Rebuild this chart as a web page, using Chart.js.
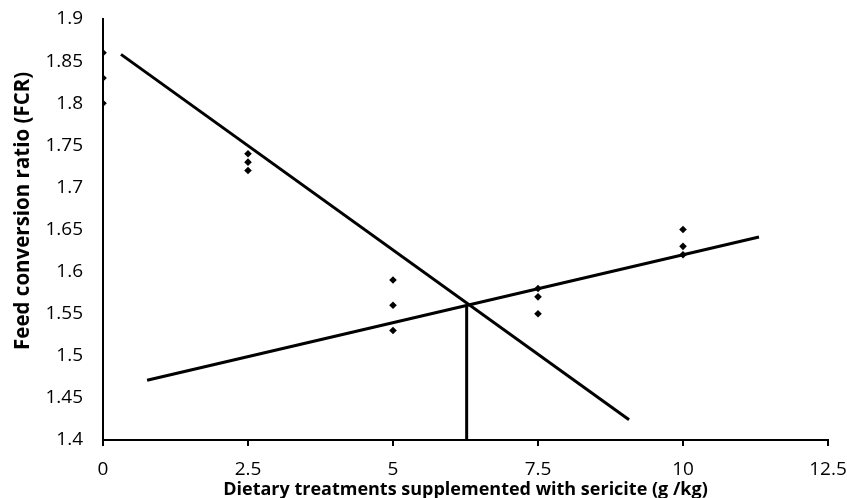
<!DOCTYPE html>
<html>
<head>
<meta charset="utf-8">
<script src="https://cdn.jsdelivr.net/npm/chart.js@4.4.0/dist/chart.umd.min.js"></script>
<style>
    html, body { margin: 0; padding: 0; background: #fff; }
    #wrap { width: 847px; height: 498px; }
</style>
</head>
<body>
<div id="wrap"><canvas id="fcr-chart" width="847" height="498"></canvas></div>
<script>
// sericite dose (g/kg) and FCR of the three replicates
const doses = [0, 2.5, 5, 7.5, 10];
const rep1 = [1.86, 1.74, 1.59, 1.58, 1.65];
const rep2 = [1.83, 1.73, 1.56, 1.57, 1.63];
const rep3 = [1.80, 1.72, 1.53, 1.55, 1.62];

// broken-line fit: falling segment, rising segment, breakpoint drop
const fallX = [0.31, 9.07];
const fallY = [1.858, 1.424];
const riseX = [0.76, 11.31];
const riseY = [1.471, 1.641];
const breakX = [6.27, 6.27];
const breakY = [1.4, 1.56];

const xTicks = [0, 2.5, 5, 7.5, 10, 12.5];

function toPoints(xs, ys) {
    return xs.map((x, i) => ({ x, y: ys[i] }));
}

const pointSet = reps => ({
    data: toPoints(doses, reps),
    pointStyle: 'rectRot',
    pointRadius: 3.8,
    backgroundColor: '#000',
    borderColor: '#000',
    borderWidth: 0,
    showLine: false
});

const lineSet = (xs, ys) => ({
    data: toPoints(xs, ys),
    showLine: true,
    borderColor: '#000',
    borderWidth: 3,
    pointRadius: 0,
    fill: false
});

const font = { family: 'Open Sans', size: 19 };

new Chart(document.getElementById('fcr-chart'), {
    type: 'scatter',
    data: {
        datasets: [
            lineSet(fallX, fallY),
            lineSet(riseX, riseY),
            lineSet(breakX, breakY),
            pointSet(rep1),
            pointSet(rep2),
            pointSet(rep3)
        ]
    },
    options: {
        responsive: false,
        animation: false,
        layout: { padding: { top: 19, right: 19, left: 0, bottom: 0 } },
        plugins: { legend: { display: false }, tooltip: { enabled: false } },
        scales: {
            x: {
                min: 0,
                max: 12.5,
                afterBuildTicks: axis => { axis.ticks = xTicks.map(v => ({ value: v })); },
                afterFit: axis => {
                    axis.height = 58;
                    axis.paddingLeft = 0;
                    axis.paddingRight = 0;
                },
                border: { color: '#000', width: 2 },
                grid: { drawOnChartArea: false, drawTicks: true, tickLength: 6, color: '#000', lineWidth: 2 },
                ticks: { color: '#000', font, padding: 12, maxRotation: 0, callback: v => String(+v.toFixed(2)) },
                title: {
                    display: true,
                    text: 'Dietary treatments supplemented with sericite (g /kg)',
                    color: '#000',
                    font: { family: 'Open Sans', size: 18, weight: 'bold' },
                    padding: { top: 0, bottom: -3 }
                }
            },
            y: {
                min: 1.4,
                max: 1.9,
                ticks: { stepSize: 0.05, color: '#000', font, padding: 20, callback: v => String(+v.toFixed(2)) },
                afterFit: axis => {
                    axis.width = 103;
                    axis.paddingTop = 0;
                    axis.paddingBottom = 0;
                },
                border: { color: '#000', width: 2 },
                grid: { drawOnChartArea: false, drawTicks: false },
                title: {
                    display: true,
                    // leading spaces nudge the centred title up, as in the original
                    text: '       Feed conversion ratio (FCR)',
                    color: '#000',
                    font: { family: 'Open Sans', size: 20.5, weight: 'bold' },
                    padding: { top: 11, bottom: 0 }
                }
            }
        }
    }
});
</script>
</body>
</html>
